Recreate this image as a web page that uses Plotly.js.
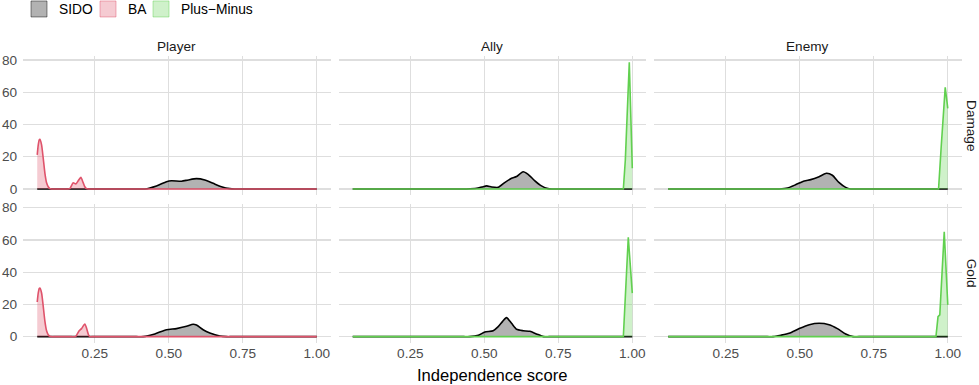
<!DOCTYPE html>
<html>
<head>
<meta charset="utf-8">
<script src="https://cdn.plot.ly/plotly-3.0.1.min.js"></script>
<style>html,body{margin:0;padding:0;background:#fff;}#chart{width:979px;height:385px;}</style>
</head>
<body>
<div id="chart"></div>
<script>
// ---------- categories / labels ----------
const facetCols = ['Player', 'Ally', 'Enemy'];
const facetRows = ['Damage', 'Gold'];
const methodNames = ['SIDO', 'BA', 'Plus\u2212Minus'];
const xTickVals = [0.25, 0.50, 0.75, 1.00];
const xTickText = ['0.25', '0.50', '0.75', '1.00'];
const yTickVals = [0, 20, 40, 60, 80];
const xTitle = 'Independence score';

// ---------- density curves ----------
// Player / Damage
const playerDamageSIDO_x = [0.0554, 0.40, 0.4189, 0.4583, 0.4921, 0.5090, 0.5428, 0.5653, 0.5935, 0.6216, 0.6498, 0.6779, 0.7061, 0.723, 0.74, 1.0];
const playerDamageSIDO_y = [0, 0, 0, 1.9, 4.5, 5.1, 4.8, 5.6, 6.4, 5.6, 3.5, 1.4, 0.2, 0, 0, 0];
const playerDamageBA_x = [0.0554, 0.0589, 0.0622, 0.0645, 0.0701, 0.0757, 0.0814, 0.0870, 0.0926, 0.0982, 0.105, 0.115, 0.150, 0.158, 0.1655, 0.1768, 0.1858, 0.1940, 0.2027, 0.2106, 0.2162, 0.2219, 0.23, 0.245, 1.0];
const playerDamageBA_y = [21.1, 27.3, 30.4, 30.8, 27.3, 19.0, 9.7, 3.9, 1.4, 0.2, 0, 0, 0, 0, 0.2, 3.9, 3.1, 5.1, 7.2, 3.9, 1.4, 0.2, 0, 0, 0];
// Player / Gold
const playerGoldSIDO_x = [0.0554, 0.39, 0.4133, 0.4527, 0.4921, 0.5259, 0.5597, 0.5822, 0.5935, 0.6160, 0.6385, 0.6723, 0.6948, 0.715, 1.0];
const playerGoldSIDO_y = [0, 0, 0, 1.7, 4.3, 5.0, 6.4, 7.7, 7.2, 4.3, 2.3, 0.4, 0, 0, 0];
const playerGoldBA_x = [0.0554, 0.0589, 0.0622, 0.0645, 0.0701, 0.0757, 0.0814, 0.0870, 0.0926, 0.0982, 0.105, 0.115, 0.170, 0.1847, 0.1971, 0.2050, 0.2162, 0.2219, 0.2286, 0.2331, 0.24, 0.255, 1.0];
const playerGoldBA_y = [21.5, 27.1, 29.9, 30.2, 27.1, 18.8, 9.5, 3.7, 1.2, 0.2, 0, 0, 0, 0, 3.7, 5.0, 7.9, 5.4, 1.2, 0, 0, 0, 0];
// Ally / Damage
const allyDamageSIDO_x = [0.0554, 0.42, 0.44, 0.474, 0.492, 0.508, 0.525, 0.547, 0.570, 0.592, 0.609, 0.631, 0.648, 0.670, 0.693, 0.715, 0.73, 0.75, 1.0];
const allyDamageSIDO_y = [0, 0, 0, 0.4, 1.2, 1.9, 1.2, 1.0, 4.1, 6.6, 7.7, 10.7, 9.1, 5.2, 1.9, 0.2, 0, 0, 0];
const allyDamagePM_x = [0.0554, 0.9698, 0.9765, 0.9899, 1.0];
const allyDamagePM_y = [0, 0, 18.0, 78.6, 12.8];
// Ally / Gold
const allyGoldSIDO_x = [0.0554, 0.43, 0.45, 0.480, 0.502, 0.530, 0.547, 0.562, 0.575, 0.592, 0.609, 0.631, 0.654, 0.676, 0.70, 0.72, 1.0];
const allyGoldSIDO_y = [0, 0, 0, 0.9, 2.9, 3.7, 6.2, 9.5, 11.8, 8.3, 4.6, 3.7, 3.3, 1.7, 0, 0, 0];
const allyGoldPM_x = [0.0554, 0.9698, 0.9787, 0.9865, 1.0];
const allyGoldPM_y = [0, 0, 33.0, 61.6, 27.0];
// Enemy / Damage
const enemyDamageSIDO_x = [0.0554, 0.41, 0.43, 0.4586, 0.487, 0.515, 0.537, 0.565, 0.590, 0.610, 0.632, 0.655, 0.672, 0.69, 1.0];
const enemyDamageSIDO_y = [0, 0, 0, 0.6, 2.7, 5.0, 5.8, 7.6, 9.7, 8.5, 4.1, 1.0, 0, 0, 0];
const enemyDamagePM_x = [0.0554, 0.9688, 0.978, 0.9913, 1.0];
const enemyDamagePM_y = [0, 0, 27.0, 63.0, 50.0];
// Enemy / Gold
const enemyGoldSIDO_x = [0.0554, 0.39, 0.41, 0.436, 0.464, 0.498, 0.532, 0.565, 0.599, 0.627, 0.655, 0.68, 0.70, 1.0];
const enemyGoldSIDO_y = [0, 0, 0, 0.9, 2.1, 5.0, 7.4, 8.3, 7.4, 5.0, 1.7, 0, 0, 0];
const enemyGoldPM_x = [0.0554, 0.960, 0.967, 0.973, 0.988, 1.0];
const enemyGoldPM_y = [0, 0, 12.4, 13.5, 65.1, 19.7];

// ---------- styling ----------
const lineColors = ['#000000', '#DF536B', '#61D04F'];
const fillColors = ['rgba(0,0,0,0.3)', 'rgba(223,83,107,0.3)', 'rgba(97,208,79,0.3)'];
const keyBorders = ['rgba(0,0,0,0.45)', 'rgba(223,83,107,0.45)', 'rgba(97,208,79,0.45)'];
const FONT = '"Liberation Sans", Arial, Helvetica, sans-serif';
const W = 979, H = 385;

// panel pixel boxes
const colPx = [[23.2, 330.7], [338.7, 646.2], [654.2, 961.7]];
const rowPx = [[55.9, 195.3], [203.6, 343.0]];
const X_RANGE = [0.008, 1.047];
const Y_RANGE = [-3.93, 82.53];

const panels = [
  {r: 0, c: 0, curves: [[0, playerDamageSIDO_x, playerDamageSIDO_y], [1, playerDamageBA_x, playerDamageBA_y]]},
  {r: 0, c: 1, curves: [[0, allyDamageSIDO_x, allyDamageSIDO_y], [2, allyDamagePM_x, allyDamagePM_y]]},
  {r: 0, c: 2, curves: [[0, enemyDamageSIDO_x, enemyDamageSIDO_y], [2, enemyDamagePM_x, enemyDamagePM_y]]},
  {r: 1, c: 0, curves: [[0, playerGoldSIDO_x, playerGoldSIDO_y], [1, playerGoldBA_x, playerGoldBA_y]]},
  {r: 1, c: 1, curves: [[0, allyGoldSIDO_x, allyGoldSIDO_y], [2, allyGoldPM_x, allyGoldPM_y]]},
  {r: 1, c: 2, curves: [[0, enemyGoldSIDO_x, enemyGoldSIDO_y], [2, enemyGoldPM_x, enemyGoldPM_y]]}
];

const traces = [];
const layout = {
  width: W, height: H,
  margin: {l: 0, r: 0, t: 0, b: 0, autoexpand: false},
  paper_bgcolor: '#ffffff', plot_bgcolor: 'rgba(0,0,0,0)',
  font: {family: FONT, size: 13.4, color: '#4d4d4d'},
  showlegend: true,
  annotations: [], shapes: []
};

panels.forEach((p, i) => {
  const n = i + 1;
  const xa = n === 1 ? 'xaxis' : 'xaxis' + n;
  const ya = n === 1 ? 'yaxis' : 'yaxis' + n;
  const xr = n === 1 ? 'x' : 'x' + n;
  const yr = n === 1 ? 'y' : 'y' + n;
  layout[xa] = {
    domain: [colPx[p.c][0] / W, colPx[p.c][1] / W],
    range: X_RANGE, anchor: yr,
    tickvals: xTickVals, ticktext: xTickText,
    showticklabels: p.r === 1, ticks: '',
    showgrid: true, gridcolor: '#dedede', gridwidth: 1.3,
    zeroline: false, showline: false, fixedrange: true, automargin: false,
    tickfont: {family: FONT, size: 13.6, color: '#4d4d4d'}
  };
  layout[ya] = {
    domain: [1 - rowPx[p.r][1] / H, 1 - rowPx[p.r][0] / H],
    range: Y_RANGE, anchor: xr,
    tickvals: yTickVals,
    showticklabels: p.c === 0, ticks: '',
    showgrid: true, gridcolor: '#dedede', gridwidth: 1.3,
    zeroline: false, showline: false, fixedrange: true, automargin: false,
    ticklabelstandoff: 5,
    tickfont: {family: FONT, size: 13.6, color: '#4d4d4d'}
  };
  p.curves.forEach(([m, xs, ys]) => {
    traces.push({
      type: 'scatter', mode: 'lines', x: xs, y: ys,
      xaxis: xr, yaxis: yr,
      fill: 'tozeroy', fillcolor: fillColors[m],
      line: {color: lineColors[m], width: 1.6, shape: m === 2 ? 'linear' : 'spline', smoothing: 0.6},
      showlegend: false, hoverinfo: 'skip', name: methodNames[m]
    });
  });
});

// legend keys (one legend per item, placed like the reference)
const legendX = [19, 88, 141];
methodNames.forEach((nm, m) => {
  const lg = m === 0 ? 'legend' : 'legend' + (m + 1);
  traces.push({
    type: 'scatter', mode: 'markers', x: [null], y: [null], xaxis: 'x', yaxis: 'y',
    name: nm, legend: lg, showlegend: true,
    marker: {symbol: 'square', size: 17, color: fillColors[m], line: {color: keyBorders[m], width: 1}}
  });
  layout[lg] = {
    orientation: 'h', x: legendX[m] / W, xanchor: 'left', y: 1 + 6.5 / H, yanchor: 'top',
    bgcolor: 'rgba(0,0,0,0)', borderwidth: 0,
    font: {family: FONT, size: 13.8, color: '#000000'}
  };
});

// strip labels
facetCols.forEach((t, c) => {
  layout.annotations.push({
    text: t, xref: 'paper', yref: 'paper',
    x: (colPx[c][0] + colPx[c][1]) / 2 / W, y: 1 - 46.3 / H,
    xanchor: 'center', yanchor: 'middle', showarrow: false,
    font: {family: FONT, size: 13.6, color: '#1a1a1a'}
  });
});
facetRows.forEach((t, r) => {
  layout.annotations.push({
    text: t, xref: 'paper', yref: 'paper',
    x: 971.5 / W, y: 1 - (rowPx[r][0] + rowPx[r][1]) / 2 / H,
    xanchor: 'center', yanchor: 'middle', showarrow: false, textangle: 90,
    font: {family: FONT, size: 13.6, color: '#1a1a1a'}
  });
});
// shared x title
layout.annotations.push({
  text: xTitle, xref: 'paper', yref: 'paper',
  x: (colPx[0][0] + colPx[2][1]) / 2 / W, y: 1 - 375 / H,
  xanchor: 'center', yanchor: 'middle', showarrow: false,
  font: {family: FONT, size: 16.6, color: '#000000'}
});

Plotly.newPlot('chart', traces, layout, {displayModeBar: false, staticPlot: true});
</script>
</body>
</html>
